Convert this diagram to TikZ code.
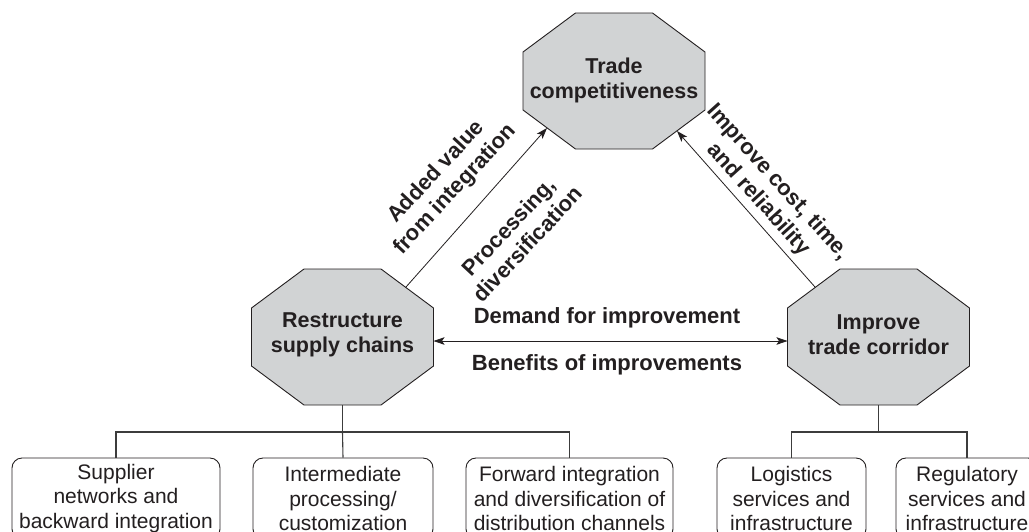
\documentclass[tikz,border=0pt]{standalone}
\usepackage{fontspec}
\setmainfont{Liberation Sans}
\usetikzlibrary{arrows.meta}
\definecolor{ink}{HTML}{231F20}
\definecolor{octfill}{HTML}{D1D3D4}
\definecolor{treeline}{HTML}{3C3C3C}
\newcommand\octagonat[1]{%
  \draw[octo] (#1) ++(-38.5,-68) -- ++(77,0) -- ++(52.5,39) -- ++(0,58)
    -- ++(-52.5,39) -- ++(-77,0) -- ++(-52.5,-39) -- ++(0,-58) -- cycle;}
\begin{document}
\begin{tikzpicture}[x=1pt,y=-1pt,
  octo/.style={draw=ink,fill=octfill,line width=0.9pt,line join=miter},
  octtext/.style={align=center,text=ink,font=\fontsize{21.5}{25}\selectfont\bfseries,inner sep=0pt},
  lbl/.style={align=center,text=ink,font=\fontsize{22}{26}\selectfont\bfseries,inner sep=0pt},
  leaf/.style={draw=ink,rounded corners=10pt,line width=0.9pt,align=center,text=ink,
    font=\fontsize{21}{24.5}\selectfont,inner sep=0pt,minimum height=81pt},
  conn/.style={draw=ink,line width=0.8pt,-{Stealth[length=11pt,width=7.5pt,inset=2.5pt]}},
  dconn/.style={draw=ink,line width=0.8pt,{Stealth[length=11pt,width=7.5pt,inset=2.5pt]}-{Stealth[length=11pt,width=7.5pt,inset=2.5pt]}},
  tree/.style={draw=treeline,line width=1.1pt}]
\useasboundingbox (0,0) rectangle (1029,531);
\clip (0,0) rectangle (1029,531);
\fill[white] (0,0) rectangle (1029,531);

% centres of the octagons
\coordinate (ctop) at (614,81);
\coordinate (cleft) at (342.5,337);
\coordinate (cright) at (878.5,337);

\octagonat{ctop}
\octagonat{cleft}
\octagonat{cright}

\node[octtext] (top) at (614,80) {Trade\\competitiveness};
\node[octtext] (left) at (342.5,335) {Restructure\\supply chains};
\node[octtext] (right) at (878.5,335) {Improve\\trade corridor};

% connector end points on the octagon edges
\coordinate (lstart) at (406,287);
\coordinate (ltip) at (547,128);
\coordinate (rstart) at (815,287);
\coordinate (rtip) at (677,131);
\coordinate (hl) at (433.5,341);
\coordinate (hr) at (787.5,341);

\draw[conn] (lstart) -- (ltip);
\draw[conn] (rstart) -- (rtip);
\draw[dconn] (hl) -- (hr);

\node[lbl,rotate=47] (addv) at (446,181) {Added value\\from integration};
\node[lbl,rotate=47] (proc) at (518,235) {Processing,\\diversification};
\node[lbl,rotate=-48] (impr) at (768,191) {Improve cost, time,\\and reliability};
\node[lbl] (dem) at (607,318) {Demand for improvement};
\node[lbl] (ben) at (607,365) {Benefits of improvements};

% leaves
\node[leaf,minimum width=208pt] (sup) at (116,498.5) {Supplier\\networks and\\backward integration};
\node[leaf,minimum width=180pt] (int) at (343,498.5) {Intermediate\\processing/\\customization};
\node[leaf,minimum width=207pt] (fwd) at (569.5,498.5) {Forward integration\\and diversification of\\distribution channels};
\node[leaf,minimum width=149pt] (log) at (791.5,498.5) {Logistics\\services and\\infrastructure};
\node[leaf,minimum width=142pt] (reg) at (967,498.5) {Regulatory\\services and\\infrastructure};

% tree connectors
\coordinate (lbot) at (342.5,405);
\coordinate (rbot) at (878.5,405);
\draw[tree] (lbot) -- (342.5,432);
\draw[tree] (sup.north) |- (342.5,432) -| (fwd.north);
\draw[tree] (int.north) -- (342.5,432);
\draw[tree] (rbot) -- (878.5,432);
\draw[tree] (log.north) |- (878.5,432) -| (reg.north);
\end{tikzpicture}
\end{document}
